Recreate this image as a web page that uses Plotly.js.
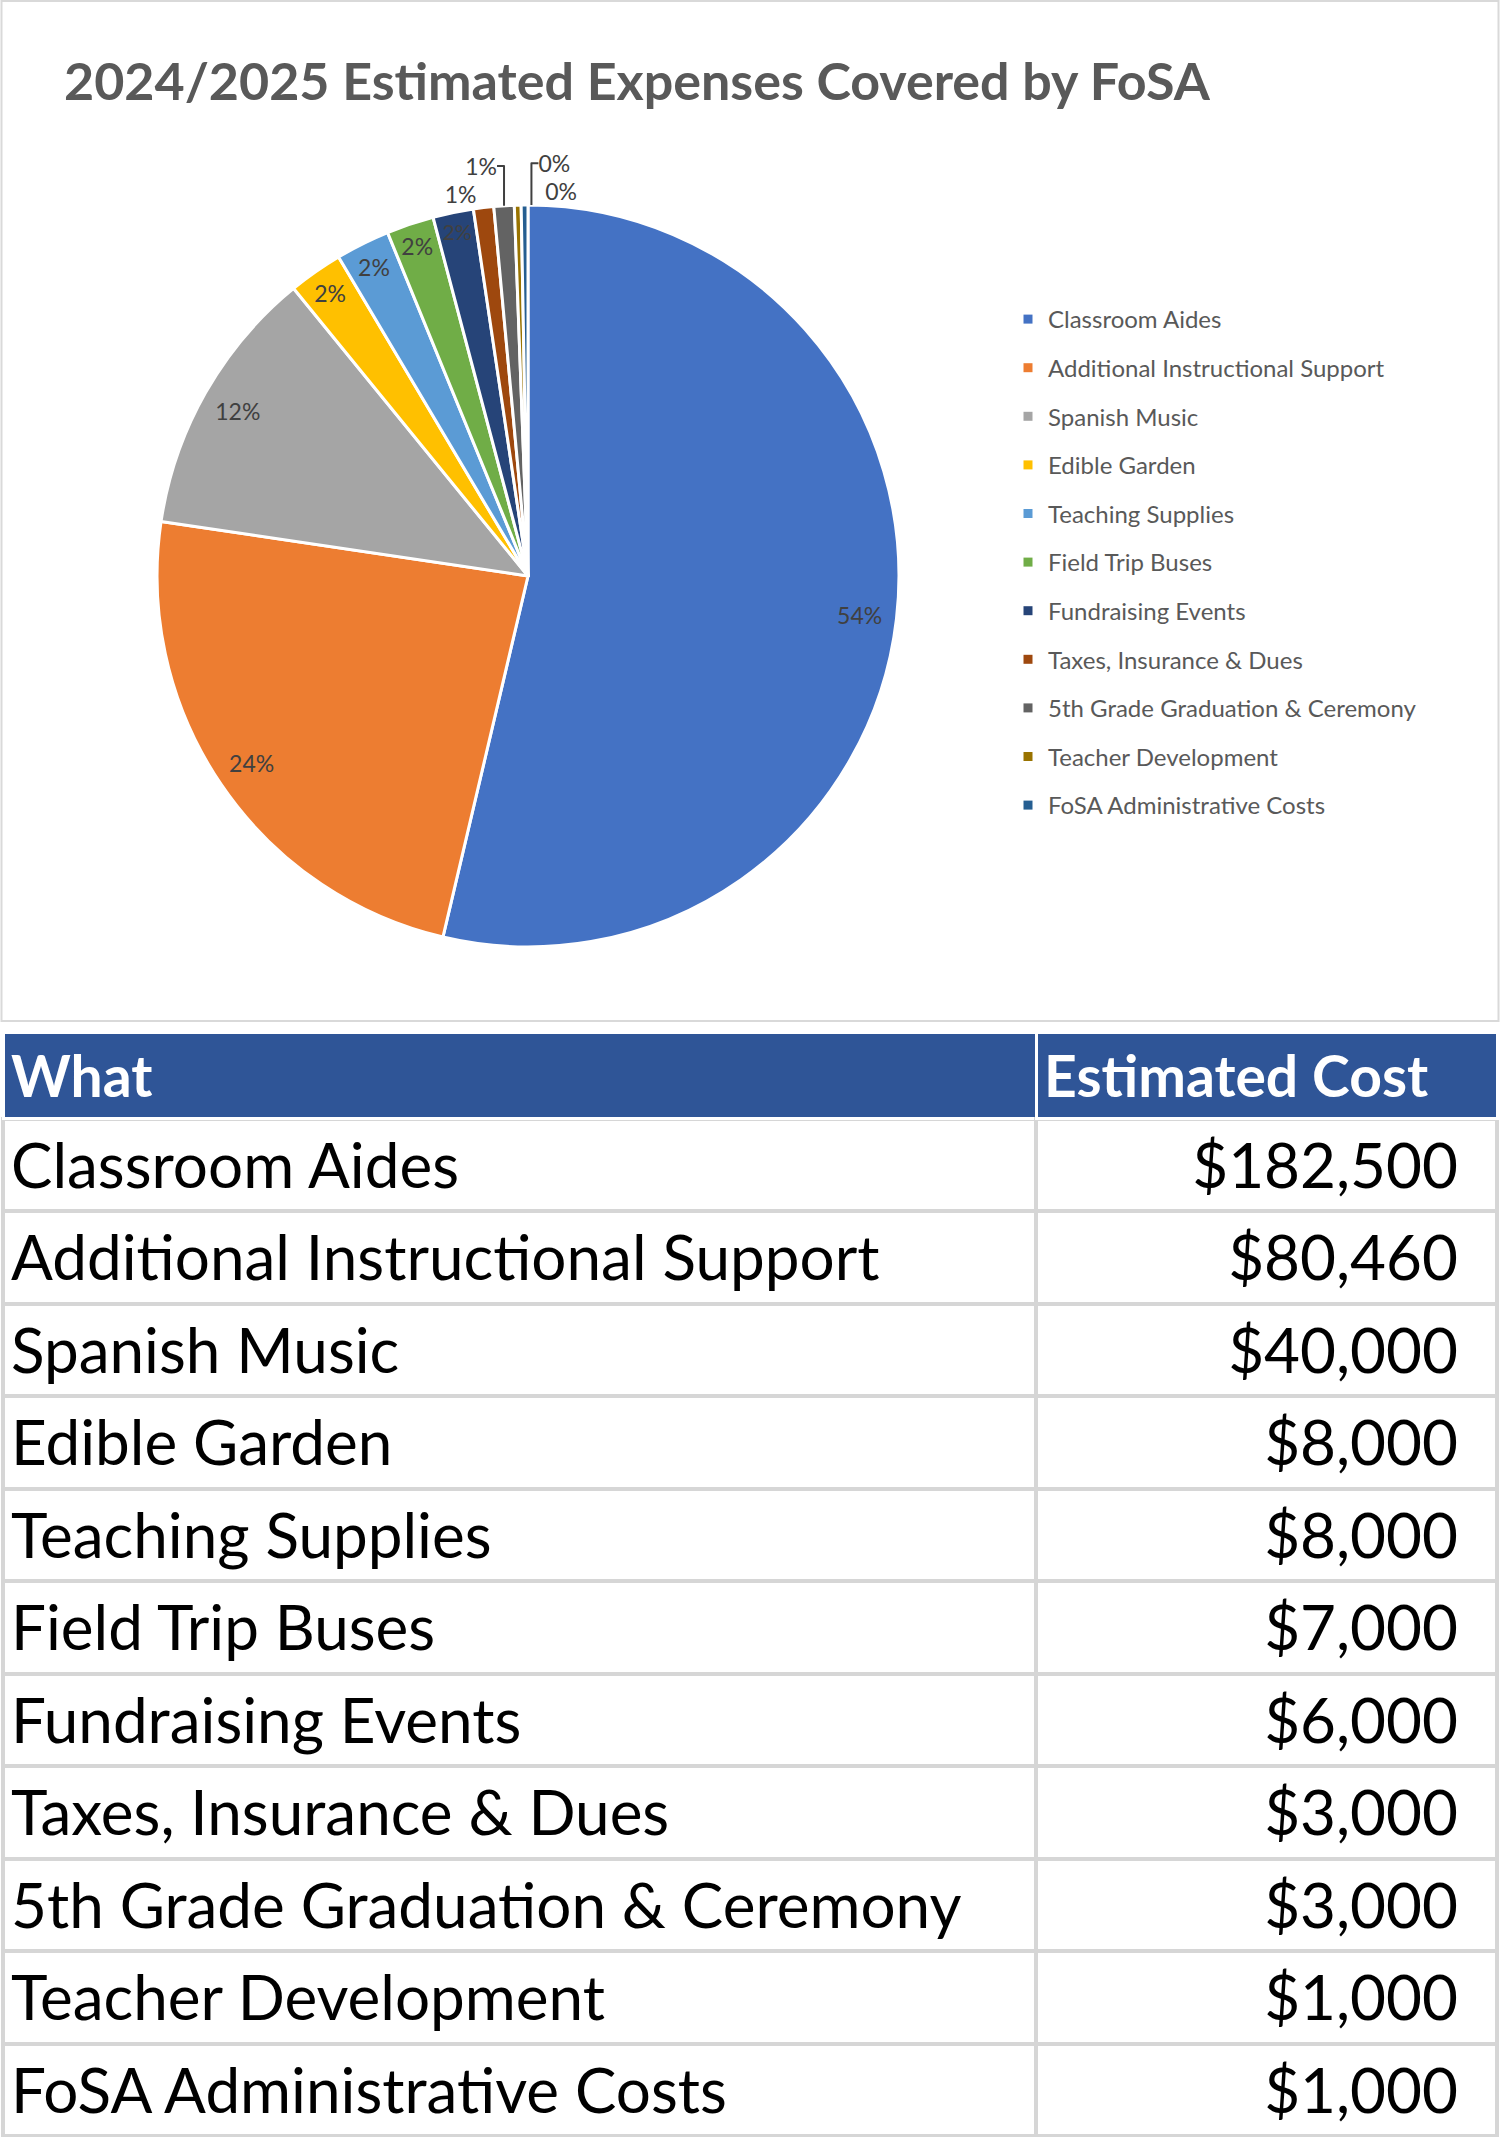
<!DOCTYPE html>
<html>
<head>
<meta charset="utf-8">
<script src="https://cdn.plot.ly/plotly-3.0.1.min.js"></script>
<style>html,body{margin:0;padding:0;background:#fff;}</style>
</head>
<body>
<div id="chart" style="width:1500px;height:2140px;"></div>
<script>
const chartTitle = '2024/2025 Estimated Expenses Covered by FoSA';
const categories = [
  'Classroom Aides',
  'Additional Instructional Support',
  'Spanish Music',
  'Edible Garden',
  'Teaching Supplies',
  'Field Trip Buses',
  'Fundraising Events',
  'Taxes, Insurance & Dues',
  '5th Grade Graduation & Ceremony',
  'Teacher Development',
  'FoSA Administrative Costs'
];
const costs = [182500, 80460, 40000, 8000, 8000, 7000, 6000, 3000, 3000, 1000, 1000];
const sliceColors = ['#4472C4','#ED7D31','#A5A5A5','#FFC000','#5B9BD5','#70AD47','#264478','#9E480E','#636363','#997300','#255E91'];
// label placement: left-hand fan (inside + 1% labels) and right-hand fan (0% labels)
const labelPlacementLeft  = ['inside','inside','inside','inside','inside','inside','inside','outside','outside','none','none'];
const labelPlacementRight = ['none','none','none','none','none','none','none','none','none','outside','outside'];
const tableHeader = ['What','Estimated Cost'];

const FONT = 'Lato, "Open Sans", sans-serif';
const pieDomain = {x:[0.1047, 0.5993], y:[0.5575, 0.9042]};
const labelFont = {family:FONT, size:23, color:'#404040'};

// table cell strings (wrapped in a neutral span so every cell is laid out the same way)
const whatCells = categories.map(c => '<span>' + c + '</span>');
const costCells = costs.map(v => '<span>$' + v.toLocaleString('en-US') + '</span>\u2002');

const pieMain = {
  type:'pie', values:costs, labels:categories, sort:false, direction:'clockwise', rotation:0,
  marker:{colors:sliceColors, line:{color:'#ffffff', width:3}},
  textinfo:'none', showlegend:false, hoverinfo:'label+value+percent', domain:pieDomain
};
const pieLabelsLeft = {
  type:'pie', values:costs, labels:categories, sort:false, direction:'clockwise', rotation:0,
  hole:0.8,
  marker:{colors:categories.map(()=> 'rgba(0,0,0,0)'), line:{width:0}},
  texttemplate:'%{percent:.0%}', textposition:labelPlacementLeft, insidetextorientation:'horizontal',
  textfont:labelFont, outsidetextfont:labelFont,
  showlegend:false, hoverinfo:'skip', domain:pieDomain
};
// mirrored label ring (order reversed) so the two 0% labels fan out to the right of 12 o'clock
const pieLabelsRight = {
  type:'pie', values:costs.slice().reverse(), labels:categories.slice().reverse(),
  sort:false, direction:'clockwise', rotation:0, hole:0.8,
  marker:{colors:categories.map(()=> 'rgba(0,0,0,0)'), line:{width:0}},
  texttemplate:'%{percent:.0%}', textposition:labelPlacementRight.slice().reverse(),
  textfont:labelFont, outsidetextfont:labelFont,
  showlegend:false, hoverinfo:'skip', domain:pieDomain
};
const table = {
  type:'table',
  domain:{x:[0.002, 0.998], y:[0.001, 0.5173]},
  columnwidth:[1031, 460],
  header:{
    values:tableHeader.map(h=>'<b>'+h+'</b>'),
    align:['left','left'], height:86,
    fill:{color:'#2F5597'}, line:{color:'#ffffff', width:3},
    font:{family:FONT, size:57, color:'#ffffff'}
  },
  cells:{
    values:[whatCells, costCells],
    align:['left','right'], height:92.5,
    fill:{color:'#ffffff'}, line:{color:'#D6D6D6', width:4},
    font:{family:FONT, size:62, color:'#000000'}
  }
};
const legendTraces = categories.map((c,i)=>({
  type:'scatter', mode:'markers', x:[null], y:[null], name:c, legendgroup:'g'+i,
  marker:{symbol:'square', size:9, color:sliceColors[i]}, hoverinfo:'skip'
}));

const layout = {
  width:1500, height:2140, margin:{l:0,r:0,t:0,b:0},
  paper_bgcolor:'#ffffff', plot_bgcolor:'rgba(0,0,0,0)',
  font:{family:FONT},
  title:{text:chartTitle, x:64/1500, xanchor:'left', xref:'paper', y:1-82/2140, yanchor:'middle', yref:'paper',
         font:{family:FONT, size:52, weight:'bold', color:'#595959'}},
  xaxis:{visible:false, domain:[0.7,0.71]}, yaxis:{visible:false, domain:[0.7,0.71]},
  showlegend:true,
  legend:{x:1008/1500, xanchor:'left', y:1-297/2140, yanchor:'top', traceorder:'grouped', tracegroupgap:14.4,
          font:{family:FONT, size:24, color:'#595959'}, bgcolor:'rgba(0,0,0,0)', borderwidth:0},
  shapes:[{type:'rect', xref:'paper', yref:'paper', x0:0.001, x1:0.999, y0:1-1021/2140, y1:1-1/2140,
           line:{color:'#D9D9D9', width:2}, fillcolor:'rgba(0,0,0,0)', layer:'below'}]
};

Plotly.newPlot('chart', [pieMain, pieLabelsLeft, pieLabelsRight, table].concat(legendTraces), layout, {displayModeBar:false, staticPlot:true});
</script>
</body>
</html>
